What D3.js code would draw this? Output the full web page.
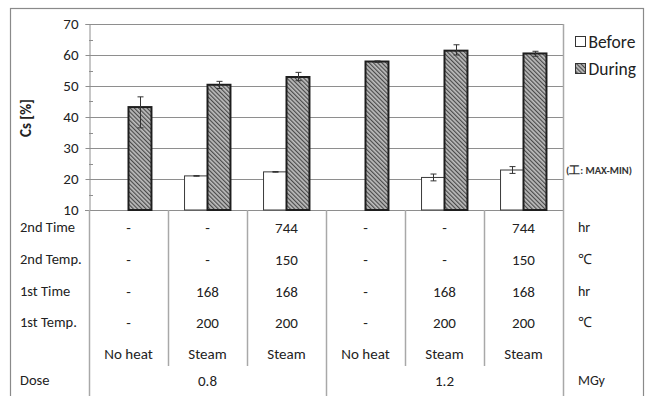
<!DOCTYPE html>
<html>
<head>
<meta charset="utf-8">
<script src="https://cdn.jsdelivr.net/npm/d3@7/dist/d3.min.js"></script>
<style>
  html, body { margin: 0; padding: 0; background: #fff; }
  svg { display: block; font-family: Carlito, Calibri, Lato, "Noto Sans", sans-serif; }
</style>
</head>
<body>
<svg id="chart" width="647" height="396"></svg>
<script>
// Conditions (one column per sample)
const categories = ["A", "B", "C", "D", "E", "F"];
const series = ["Before", "During"];

// Cs retention [%] — mean, max, min (null = not measured)
const beforeMean = [null, 21.0, 22.3, null, 20.5, 22.9];
const beforeMax  = [null, 21.1, 22.4, null, 21.6, 24.0];
const beforeMin  = [null, 20.9, 22.2, null, 19.4, 21.8];
const duringMean = [43.2, 50.4, 52.9, 57.9, 61.4, 60.5];
const duringMax  = [46.5, 51.5, 54.4, 58.1, 63.3, 61.2];
const duringMin  = [36.5, 49.2, 51.7, 57.6, 60.0, 59.6];

const yTicks = [10, 20, 30, 40, 50, 60, 70];

// Table below the plot
const rowLabels = ["2nd Time", "2nd Temp.", "1st Time", "1st Temp.", "", "Dose"];
const rowUnits  = ["hr", "\u2103", "hr", "\u2103", "", "MGy"];
const secondTime = ["-", "-", "744", "-", "-", "744"];
const secondTemp = ["-", "-", "150", "-", "-", "150"];
const firstTime  = ["-", "168", "168", "-", "168", "168"];
const firstTemp  = ["-", "200", "200", "-", "200", "200"];
const heatType   = ["No heat", "Steam", "Steam", "No heat", "Steam", "Steam"];
const doseGroups = ["0.8", "1.2"];

const svg = d3.select("#chart");

const plot = { left: 89, right: 563, top: 24, bottom: 210 };
const rowY = [228, 260, 292, 323, 354, 381];
const gridColor = "#8e8e8e";

const x = d3.scaleBand().domain(categories).range([plot.left, plot.right]).padding(0);
const xs = d3.scaleBand().domain(series).range([0, x.bandwidth()]).paddingInner(0).paddingOuter(0.72);
const y = d3.scaleLinear().domain([10, 70]).range([plot.bottom, plot.top]);

// Hatch fill for the "During" bars
const defs = svg.append("defs");
const pat = defs.append("pattern")
  .attr("id", "hatch").attr("patternUnits", "userSpaceOnUse")
  .attr("width", 3).attr("height", 3)
  .attr("patternTransform", "rotate(-45)");
pat.append("rect").attr("width", 3).attr("height", 3).attr("fill", "#bdbdbd");
pat.append("rect").attr("width", 1.2).attr("height", 3).attr("fill", "#4a4a4a");

// Outer frame
svg.append("rect")
  .attr("x", 10.5).attr("y", 8.5).attr("width", 633).attr("height", 400)
  .attr("fill", "none").attr("stroke", "#8a8a8a").attr("stroke-width", 1.2);

// Horizontal gridlines
svg.append("g").selectAll("line").data(yTicks.filter(t => t > 10)).join("line")
  .attr("x1", plot.left).attr("x2", plot.right)
  .attr("y1", d => Math.round(y(d)) + 0.5).attr("y2", d => Math.round(y(d)) + 0.5)
  .attr("stroke", gridColor).attr("stroke-width", 1);

// Y axis
const yAxis = d3.axisLeft(y).tickValues(yTicks).tickSize(4).tickPadding(7);
const gy = svg.append("g").attr("transform", `translate(${plot.left + 0.5},0)`).call(yAxis);
gy.select(".domain").attr("stroke", gridColor);
gy.selectAll(".tick line").attr("stroke", gridColor);
gy.selectAll(".tick text").attr("font-size", 15).attr("fill", "#222")
  .attr("font-family", "Carlito, Calibri, Lato, sans-serif");

// Minor ticks at the midpoints, inside the axis
const minor = d3.range(15, 70, 10);
svg.append("g").selectAll("line").data(minor).join("line")
  .attr("x1", plot.left).attr("x2", plot.left + 4)
  .attr("y1", d => Math.round(y(d)) + 0.5).attr("y2", d => Math.round(y(d)) + 0.5)
  .attr("stroke", gridColor);

// Baseline
svg.append("line")
  .attr("x1", plot.left - 4).attr("x2", plot.right)
  .attr("y1", plot.bottom + 0.5).attr("y2", plot.bottom + 0.5)
  .attr("stroke", gridColor);

// Table column dividers
const innerDividers = [1, 2, 4, 5].map(i => x(categories[i]));
svg.append("g").selectAll("line").data(innerDividers).join("line")
  .attr("x1", d => Math.round(d) + 0.5).attr("x2", d => Math.round(d) + 0.5)
  .attr("y1", plot.bottom).attr("y2", 366)
  .attr("stroke", "#a8a8a8").attr("stroke-width", 1.5);
const fullDividers = [plot.left, x(categories[3]), plot.right];
svg.append("g").selectAll("line").data(fullDividers).join("line")
  .attr("x1", d => Math.round(d) + 0.5).attr("x2", d => Math.round(d) + 0.5)
  .attr("y1", d => d === plot.right ? plot.top : plot.bottom).attr("y2", 396)
  .attr("stroke", "#a8a8a8").attr("stroke-width", 1.5);

// Bars
function drawBars(means, name, fill, stroke, sw) {
  const data = categories.map((c, i) => ({ c, v: means[i] })).filter(d => d.v !== null);
  svg.append("g").selectAll("rect").data(data).join("rect")
    .attr("x", d => x(d.c) + xs(name))
    .attr("y", d => y(d.v))
    .attr("width", xs.bandwidth())
    .attr("height", d => y(10) - y(d.v))
    .attr("fill", fill).attr("stroke", stroke).attr("stroke-width", sw);
}
drawBars(beforeMean, "Before", "#fff", "#3a3a3a", 1);
drawBars(duringMean, "During", "url(#hatch)", "#1e1e1e", 2);

// Error bars (max–min)
function drawErr(maxs, mins, name) {
  const data = categories.map((c, i) => ({ c, hi: maxs[i], lo: mins[i] })).filter(d => d.hi !== null);
  const g = svg.append("g").attr("stroke", "#333").attr("stroke-width", 1);
  const cx = d => Math.round(x(d.c) + xs(name) + xs.bandwidth() / 2) + 0.5;
  g.selectAll(".v").data(data).join("line")
    .attr("x1", cx).attr("x2", cx).attr("y1", d => y(d.hi)).attr("y2", d => y(d.lo));
  ["hi", "lo"].forEach(k => {
    g.selectAll(".c" + k).data(data).join("line")
      .attr("x1", d => cx(d) - 3).attr("x2", d => cx(d) + 3)
      .attr("y1", d => y(d[k])).attr("y2", d => y(d[k]));
  });
}
drawErr(beforeMax, beforeMin, "Before");
drawErr(duringMax, duringMin, "During");

// Y axis title
svg.append("text")
  .attr("transform", "translate(31,118) rotate(-90)")
  .attr("text-anchor", "middle").attr("font-size", 15).attr("font-weight", "bold")
  .attr("fill", "#222").text("Cs  [%]");

// Legend
const legend = [{ name: "Before", fill: "#fff" }, { name: "During", fill: "url(#hatch)" }];
const lg = svg.append("g").selectAll("g").data(legend).join("g")
  .attr("transform", (d, i) => `translate(575,${36 + i * 27})`);
lg.append("rect").attr("x", 0.5).attr("y", 0.5).attr("width", 10).attr("height", 10)
  .attr("fill", d => d.fill).attr("stroke", "#333").attr("stroke-width", 1);
lg.append("text").attr("x", 13.5).attr("y", 11.5).attr("font-size", 17.5).attr("fill", "#222")
  .text(d => d.name);

svg.append("text").attr("x", 566).attr("y", 174).attr("font-size", 10.5).attr("font-weight", "bold")
  .attr("fill", "#333")
  .text("(\u5DE5: MAX-MIN)");

// Table text
const tableRows = [secondTime, secondTemp, firstTime, firstTemp, heatType];
const tg = svg.append("g").attr("font-size", 15).attr("fill", "#222");
tableRows.forEach((row, r) => {
  tg.selectAll(null).data(row).join("text")
    .attr("x", (d, i) => x(categories[i]) + x.bandwidth() / 2)
    .attr("y", rowY[r]).attr("dy", "0.35em").attr("text-anchor", "middle")
    .text(d => d);
});
tg.selectAll(null).data(doseGroups).join("text")
  .attr("x", (d, i) => i === 0 ? (plot.left + x(categories[3])) / 2 : (x(categories[3]) + plot.right) / 2)
  .attr("y", rowY[5]).attr("dy", "0.35em").attr("text-anchor", "middle")
  .text(d => d);
tg.selectAll(null).data(rowLabels).join("text")
  .attr("x", 20).attr("y", (d, i) => rowY[i] - 1).attr("dy", "0.35em")
  .attr("font-size", 14.5).text(d => d);
tg.selectAll(null).data(rowUnits).join("text")
  .attr("x", 578).attr("y", (d, i) => rowY[i] - 1).attr("dy", "0.35em")
  .attr("font-size", 14).text(d => d);
</script>
</body>
</html>
